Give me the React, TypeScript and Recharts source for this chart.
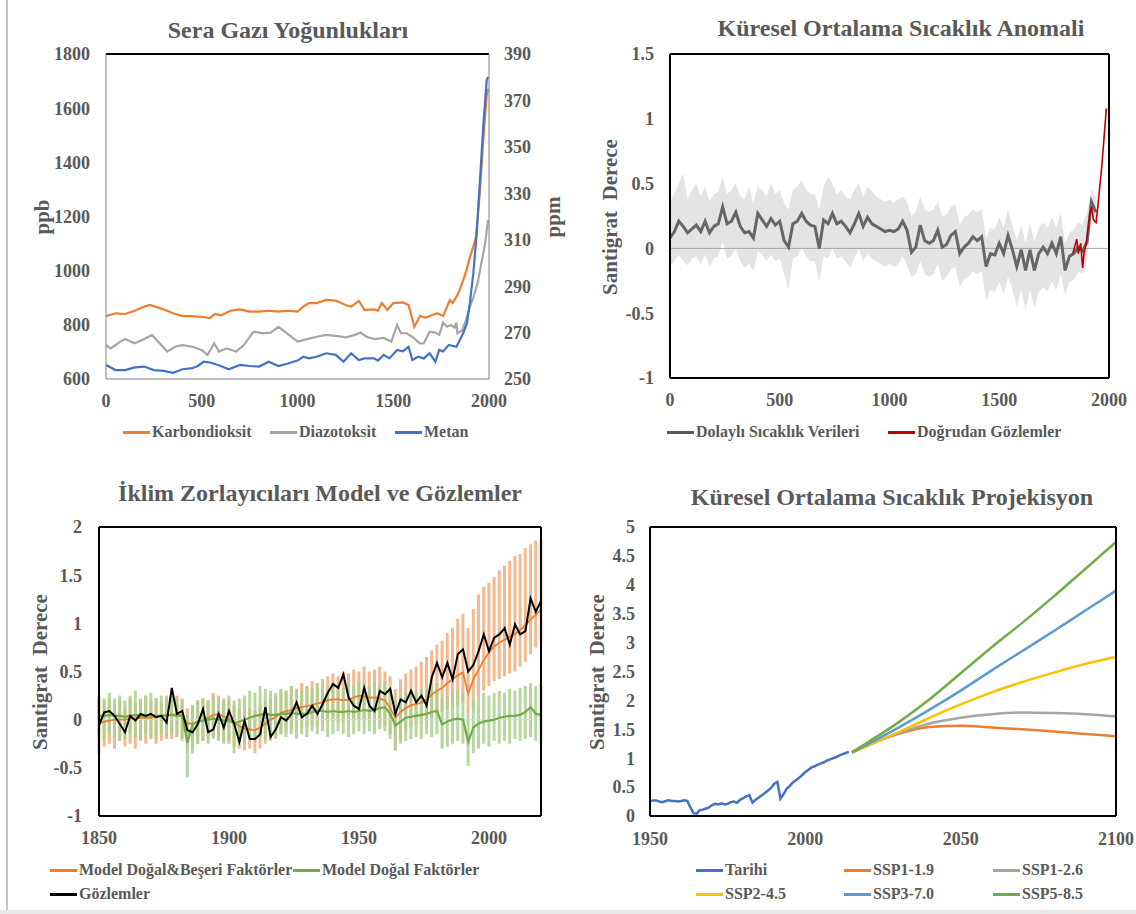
import React from "react";
import {
  LineChart,
  ComposedChart,
  Line,
  Area,
  Bar,
  XAxis,
  YAxis,
  ReferenceLine,
} from "recharts";

const FONT = '"Liberation Serif", "Times New Roman", serif';
const INK = "#595959";

// ---- Sera gazı yoğunlukları (yıl 0–2000) ----
const co2Years = [0, 50, 100, 150, 200, 230, 300, 350, 400, 450, 500, 540, 570, 600, 650, 700, 750, 800, 850, 900, 950, 1000, 1030, 1060, 1100, 1150, 1200, 1250, 1280, 1320, 1350, 1400, 1420, 1440, 1470, 1500, 1550, 1580, 1610, 1640, 1670, 1700, 1730, 1760, 1796, 1810, 1840, 1866, 1883, 1901, 1918, 1932, 1953, 1970, 1988, 1995];
const co2Ppm = [277.1, 278.3, 278.0, 279.4, 281.2, 281.9, 280.0, 278.3, 277.1, 277.1, 276.8, 276.2, 278.0, 277.4, 279.4, 280.0, 279.0, 279.0, 279.4, 279.0, 279.4, 279.0, 281.2, 282.7, 282.7, 284.1, 283.8, 281.9, 281.2, 283.7, 279.7, 280.0, 279.4, 282.7, 279.7, 282.7, 283.0, 281.9, 272.5, 277.1, 276.5, 277.5, 278.3, 277.1, 284.0, 282.7, 286.9, 292.7, 297.0, 302.7, 307.0, 311.3, 331.4, 353.0, 372.0, 375.0];

const n2oYears = [0, 25, 75, 100, 150, 200, 240, 280, 320, 360, 400, 450, 500, 530, 565, 590, 630, 680, 720, 770, 820, 860, 900, 940, 1000, 1050, 1100, 1150, 1200, 1250, 1300, 1330, 1360, 1400, 1450, 1490, 1520, 1540, 1570, 1600, 1640, 1660, 1690, 1720, 1740, 1760, 1780, 1800, 1820, 1830, 1835, 1860, 1880, 1900, 1920, 1940, 1960, 1980, 1995];
const n2oPpb = [264.6, 263.2, 266.1, 267.2, 265.4, 267.2, 269.0, 265.4, 261.8, 263.9, 264.6, 263.9, 262.5, 260.3, 265.4, 261.8, 263.2, 261.8, 264.6, 270.4, 269.7, 270.0, 272.5, 270.0, 266.1, 267.2, 268.2, 269.0, 268.6, 267.9, 269.0, 270.0, 268.2, 267.2, 267.7, 266.1, 273.3, 269.7, 269.7, 268.1, 265.3, 265.4, 270.4, 270.0, 269.0, 274.3, 272.5, 273.3, 272.2, 274.3, 269.7, 271.0, 275.4, 281.2, 285.5, 291.2, 299.8, 308.5, 318.5];

const ch4Years = [0, 50, 100, 150, 200, 250, 300, 350, 400, 450, 480, 510, 550, 600, 640, 700, 750, 800, 850, 900, 950, 1000, 1030, 1060, 1100, 1150, 1200, 1240, 1280, 1320, 1350, 1400, 1420, 1450, 1480, 1520, 1550, 1580, 1600, 1630, 1660, 1690, 1720, 1740, 1760, 1790, 1830, 1865, 1885, 1900, 1918, 1936, 1953, 1970, 1988, 1995];
const ch4Ppb = [652, 633, 633, 643, 646, 633, 630, 623, 636, 640, 648, 664, 660, 648, 636, 652, 648, 646, 664, 648, 657, 668, 682, 676, 682, 695, 689, 664, 695, 670, 676, 676, 668, 689, 676, 707, 702, 719, 670, 682, 676, 695, 664, 707, 702, 726, 719, 769, 806, 880, 990, 1138, 1335, 1532, 1704, 1715];

// ---- Küresel ortalama sıcaklık anomalisi ----
const proxyYears = Array.from({ length: 98 }, (_, i) => i * 20);
const proxyMean = [
  0.08, 0.13, 0.21, 0.17, 0.12, 0.15, 0.18, 0.13, 0.21, 0.12,
  0.17, 0.19, 0.32, 0.19, 0.21, 0.28, 0.17, 0.12, 0.13, 0.08,
  0.27, 0.22, 0.17, 0.23, 0.18, 0.21, 0.06, 0.01, 0.19, 0.21,
  0.27, 0.21, 0.18, 0.17, 0.0, 0.22, 0.19, 0.27, 0.19, 0.21,
  0.17, 0.12, 0.19, 0.27, 0.17, 0.24, 0.19, 0.17, 0.15, 0.13,
  0.14, 0.13, 0.15, 0.21, 0.14, -0.03, 0.01, 0.18, 0.06, 0.04,
  0.06, 0.14, 0.01, 0.03, 0.1, 0.13, -0.04, 0.01, 0.04, 0.09,
  0.06, 0.09, -0.14, -0.04, -0.05, 0.04, -0.04, 0.1, -0.01, -0.14,
  -0.01, -0.17, -0.01, -0.17, -0.04, 0.01, -0.04, 0.04, -0.04, 0.09,
  -0.17, -0.06, -0.04, 0.01, -0.02, 0.05, 0.36, 0.28,
];
const proxyHigh = [
  0.37, 0.42, 0.5, 0.58, 0.38, 0.45, 0.5, 0.4, 0.48, 0.36,
  0.42, 0.44, 0.55, 0.42, 0.45, 0.5, 0.4, 0.38, 0.48, 0.35,
  0.48, 0.45, 0.4, 0.5, 0.42, 0.45, 0.35, 0.3, 0.45, 0.48,
  0.52, 0.45, 0.42, 0.42, 0.3, 0.48, 0.55, 0.5, 0.42, 0.45,
  0.4, 0.38, 0.45, 0.5, 0.4, 0.48, 0.44, 0.4, 0.38, 0.36,
  0.38, 0.35, 0.38, 0.4, 0.36, 0.25, 0.28, 0.4, 0.3, 0.28,
  0.3, 0.36, 0.25, 0.26, 0.32, 0.34, 0.18, 0.24, 0.26, 0.3,
  0.28, 0.3, 0.08, 0.16, 0.15, 0.24, 0.16, 0.3, 0.18, 0.06,
  0.18, 0.04, 0.2, 0.05, 0.16, 0.2, 0.16, 0.24, 0.16, 0.28,
  0.04, 0.12, 0.15, 0.2, 0.18, 0.28, 0.45, 0.4,
];
const proxyLow = [
  -0.13, -0.1, -0.05, -0.1, -0.13, -0.08, -0.06, -0.12, -0.05, -0.14,
  -0.08, -0.06, 0.05, -0.08, -0.06, 0.0, -0.1, -0.15, -0.12, -0.18,
  -0.02, -0.05, -0.1, -0.05, -0.1, -0.08, -0.2, -0.32, -0.08, -0.06,
  0.0, -0.06, -0.1, -0.1, -0.26, -0.06, -0.08, 0.0, -0.08, -0.06,
  -0.1, -0.15, -0.08, 0.0, -0.1, -0.04, -0.08, -0.1, -0.12, -0.14,
  -0.12, -0.14, -0.12, -0.06, -0.13, -0.22, -0.2, -0.1, -0.2, -0.22,
  -0.2, -0.12, -0.25, -0.22, -0.16, -0.14, -0.3, -0.24, -0.22, -0.18,
  -0.2, -0.18, -0.4, -0.32, -0.34, -0.26, -0.35, -0.22, -0.32, -0.45,
  -0.32, -0.48, -0.32, -0.46, -0.34, -0.3, -0.33, -0.26, -0.32, -0.2,
  -0.36, -0.26, -0.24, -0.18, -0.2, -0.1, 0.25, 0.2,
];
const directYears = [1835, 1845, 1853, 1860, 1871, 1880, 1886, 1898, 1913, 1921, 1929, 1941, 1947, 1967, 1988];
const directTemp = [-0.04, 0.02, 0.07, -0.04, 0.04, -0.15, -0.04, 0.06, 0.27, 0.32, 0.22, 0.2, 0.29, 0.63, 1.08];

// ---- İklim zorlayıcıları (1850–2020, iki yıllık) ----
const forcingYears = Array.from({ length: 86 }, (_, i) => 1850 + i * 2);
const allMean = [
  -0.04, -0.02, -0.01, 0.0, 0.0, 0.0, 0.01, 0.01, 0.02, 0.02,
  0.02, 0.03, 0.04, 0.04, 0.05, 0.06, 0.04, -0.04, -0.04, -0.02,
  -0.01, 0.02, 0.05, 0.06, 0.03, 0.01, -0.03, -0.07, -0.09, -0.1,
  -0.11, -0.08, -0.04, 0.0, 0.03, 0.07, 0.09, 0.1, 0.12, 0.13,
  0.14, 0.15, 0.17, 0.18, 0.2, 0.21, 0.21, 0.2, 0.21, 0.23,
  0.25, 0.24, 0.23, 0.23, 0.22, 0.2, 0.12, 0.02, 0.08, 0.12,
  0.15, 0.16, 0.18, 0.21, 0.26, 0.3, 0.33, 0.38, 0.42, 0.46,
  0.49, 0.27, 0.42, 0.52, 0.62, 0.7, 0.76, 0.8, 0.83, 0.86,
  0.89, 0.93, 0.98, 1.04, 1.09, 1.14,
];
const allHigh = [
  0.2, 0.18, 0.22, 0.15, 0.2, 0.12, 0.22, 0.18, 0.2, 0.25,
  0.2, 0.22, 0.18, 0.25, 0.3, 0.25, 0.22, 0.12, 0.15, 0.2,
  0.22, 0.2, 0.28, 0.25, 0.22, 0.2, 0.15, 0.12, 0.1, 0.12,
  0.1, 0.15, 0.2, 0.22, 0.25, 0.3, 0.3, 0.35, 0.32, 0.38,
  0.35, 0.4, 0.38, 0.42, 0.45, 0.48, 0.45, 0.5, 0.48, 0.52,
  0.5, 0.55, 0.5, 0.52, 0.55, 0.5, 0.45, 0.32, 0.42, 0.48,
  0.52, 0.55, 0.6, 0.65, 0.72, 0.78, 0.82, 0.9, 0.95, 1.05,
  1.1, 0.95, 1.15, 1.3, 1.38, 1.42, 1.48, 1.55, 1.6, 1.65,
  1.7, 1.72, 1.78, 1.82, 1.86, 1.88,
];
const allLow = [
  -0.35, -0.28, -0.25, -0.3, -0.22, -0.28, -0.25, -0.3, -0.22, -0.25,
  -0.2, -0.25, -0.22, -0.2, -0.2, -0.18, -0.22, -0.3, -0.28, -0.25,
  -0.22, -0.2, -0.18, -0.2, -0.22, -0.25, -0.28, -0.3, -0.32, -0.3,
  -0.35, -0.3, -0.25, -0.22, -0.2, -0.15, -0.12, -0.1, -0.1, -0.08,
  -0.08, -0.06, -0.05, -0.04, -0.02, -0.02, -0.03, -0.03, -0.02, 0.0,
  0.0, 0.0, -0.02, -0.02, -0.04, -0.06, -0.15, -0.32, -0.2, -0.12,
  -0.08, -0.05, -0.04, -0.02, 0.02, 0.05, 0.08, 0.1, 0.12, 0.15,
  0.18, 0.05, 0.12, 0.22, 0.3, 0.35, 0.4, 0.42, 0.45, 0.48,
  0.5, 0.55, 0.6, 0.68, 0.75, 0.8,
];
const natMean = [
  0.04, 0.04, 0.05, 0.04, 0.04, 0.03, 0.04, 0.05, 0.04, 0.04,
  0.05, 0.04, 0.04, 0.05, 0.05, 0.04, 0.04, -0.24, -0.05, -0.02,
  -0.01, 0.0, 0.01, 0.0, -0.01, -0.01, -0.04, -0.02, 0.0, 0.02,
  0.04, 0.05, 0.06, 0.05, 0.05, 0.06, 0.06, 0.07, 0.06, 0.06,
  0.06, 0.08, 0.09, 0.09, 0.08, 0.09, 0.08, 0.08, 0.09, 0.08,
  0.09, 0.1, 0.09, 0.1, 0.12, 0.13, 0.06, -0.06, -0.02, 0.02,
  0.03, 0.04, 0.05, 0.06, 0.08, 0.09, -0.05, -0.02, 0.0, 0.01,
  0.0, -0.23, -0.08, -0.04, -0.02, -0.01, 0.0, 0.02, 0.03, 0.04,
  0.04, 0.05, 0.08, 0.13, 0.06, 0.05,
];
const natHigh = [
  0.25, 0.22, 0.28, 0.22, 0.25, 0.2, 0.25, 0.3, 0.22, 0.25,
  0.28, 0.22, 0.25, 0.22, 0.28, 0.22, 0.2, 0.05, 0.15, 0.2,
  0.22, 0.2, 0.25, 0.22, 0.2, 0.25, 0.2, 0.22, 0.25, 0.3,
  0.28, 0.35, 0.32, 0.3, 0.28, 0.32, 0.3, 0.35, 0.32, 0.3,
  0.35, 0.32, 0.38, 0.35, 0.32, 0.38, 0.35, 0.32, 0.38, 0.35,
  0.4, 0.38, 0.35, 0.4, 0.38, 0.4, 0.3, 0.2, 0.25, 0.28,
  0.3, 0.28, 0.32, 0.3, 0.35, 0.38, 0.22, 0.25, 0.28, 0.3,
  0.28, 0.05, 0.2, 0.22, 0.28, 0.25, 0.28, 0.3, 0.28, 0.32,
  0.3, 0.33, 0.35, 0.38, 0.35, 0.37,
];
const natLow = [
  -0.15, -0.2, -0.15, -0.18, -0.22, -0.2, -0.15, -0.18, -0.2, -0.15,
  -0.18, -0.2, -0.15, -0.18, -0.15, -0.18, -0.2, -0.6, -0.35, -0.25,
  -0.22, -0.25, -0.2, -0.22, -0.25, -0.22, -0.35, -0.28, -0.25, -0.2,
  -0.22, -0.18, -0.2, -0.15, -0.18, -0.15, -0.18, -0.15, -0.2, -0.15,
  -0.18, -0.12, -0.15, -0.12, -0.18, -0.15, -0.12, -0.15, -0.18, -0.15,
  -0.12, -0.15, -0.12, -0.15, -0.1, -0.12, -0.2, -0.32, -0.25, -0.22,
  -0.2, -0.18, -0.2, -0.15, -0.18, -0.15, -0.3, -0.28, -0.25, -0.22,
  -0.25, -0.48, -0.35, -0.3, -0.25, -0.28, -0.22, -0.25, -0.22, -0.25,
  -0.2, -0.22, -0.2, -0.18, -0.22, -0.25,
];
const observed = [
  -0.06, 0.075, 0.09, 0.04, -0.045, -0.13, 0.04, -0.01, 0.06, 0.04,
  0.06, 0.025, 0.04, -0.03, 0.33, 0.06, 0.09, -0.11, -0.13, -0.045,
  0.11, -0.13, -0.1, 0.06, -0.08, 0.09, -0.045, -0.23, -0.01, -0.2,
  -0.2, -0.15, 0.13, -0.18, -0.1, 0.025, -0.01, 0.06, 0.18, 0.025,
  0.06, 0.145, 0.06, 0.16, 0.28, 0.37, 0.33, 0.47, 0.23, 0.145,
  0.11, 0.33, 0.145, 0.09, 0.3, 0.265, 0.32, 0.06, 0.21, 0.18,
  0.3, 0.18, 0.25, 0.145, 0.44, 0.59, 0.44, 0.59, 0.42, 0.68,
  0.73, 0.5, 0.57, 0.71, 0.885, 0.71, 0.85, 0.885, 0.95, 0.78,
  0.99, 0.885, 0.92, 1.26, 1.12, 1.23,
];

// ---- Projeksiyon (1950–2100) ----
const histYears = Array.from({ length: 65 }, (_, i) => 1950 + i);
const histTemp = [
  0.26, 0.27, 0.27, 0.25, 0.24, 0.26, 0.27, 0.26, 0.26, 0.25,
  0.26, 0.27, 0.26, 0.15, 0.05, 0.04, 0.1, 0.11, 0.13, 0.15,
  0.19, 0.21, 0.2, 0.22, 0.2, 0.21, 0.24, 0.25, 0.23, 0.28,
  0.31, 0.34, 0.36, 0.23, 0.28, 0.32, 0.36, 0.4, 0.44, 0.49,
  0.56, 0.59, 0.3, 0.38, 0.47, 0.52, 0.58, 0.62, 0.66, 0.71,
  0.76, 0.8, 0.84, 0.86, 0.89, 0.91, 0.93, 0.96, 0.98, 1.0,
  1.02, 1.05, 1.07, 1.09, 1.11,
];
const sspYears = [2015, 2020, 2030, 2040, 2050, 2060, 2070, 2080, 2090, 2100];
const ssp119 = [1.1, 1.22, 1.42, 1.54, 1.56, 1.53, 1.5, 1.46, 1.42, 1.38];
const ssp126 = [1.1, 1.22, 1.43, 1.6, 1.7, 1.76, 1.79, 1.78, 1.76, 1.72];
const ssp245 = [1.1, 1.22, 1.45, 1.7, 1.93, 2.14, 2.32, 2.48, 2.63, 2.75];
const ssp370 = [1.1, 1.24, 1.53, 1.84, 2.17, 2.52, 2.86, 3.2, 3.55, 3.9];
const ssp585 = [1.1, 1.27, 1.62, 2.02, 2.47, 2.92, 3.35, 3.8, 4.27, 4.74];

const pairs = (xs: number[], ys: number[]) => xs.map((year, i) => ({ year, v: ys[i] }));

const co2Data = pairs(co2Years, co2Ppm);
const n2oData = pairs(n2oYears, n2oPpb);
const ch4Data = pairs(ch4Years, ch4Ppb);

const proxyRows = proxyYears.map((year, i) => ({
  year,
  proxy: proxyMean[i],
  band: [proxyLow[i], proxyHigh[i]],
}));
const directData = pairs(directYears, directTemp);

const forcingRows = forcingYears.map((year, i) => ({
  year,
  allRange: [allLow[i], allHigh[i]],
  natRange: [natLow[i], natHigh[i]],
  all: allMean[i],
  nat: natMean[i],
  obs: observed[i],
}));

const histData = pairs(histYears, histTemp);
const sspRows = sspYears.map((year, i) => ({
  year,
  s119: ssp119[i],
  s126: ssp126[i],
  s245: ssp245[i],
  s370: ssp370[i],
  s585: ssp585[i],
}));

const tickStyle = { fill: INK, fontSize: 18, fontWeight: 700, fontFamily: FONT };
const boxAxis = { stroke: "#000", strokeWidth: 2 };

function Title({ x, y, text }: { x: number; y: number; text: string }) {
  return (
    <div
      style={{
        position: "absolute",
        left: x,
        top: y - 12,
        transform: "translateX(-50%)",
        whiteSpace: "nowrap",
        fontSize: 24,
        lineHeight: "24px",
        fontWeight: 700,
        color: INK,
      }}
    >
      {text}
    </div>
  );
}

function SideLabel({ x, y, text }: { x: number; y: number; text: string }) {
  return (
    <div
      style={{
        position: "absolute",
        left: x,
        top: y,
        transform: "translate(-50%, -50%) rotate(-90deg)",
        whiteSpace: "pre",
        fontSize: 21,
        lineHeight: "21px",
        fontWeight: 700,
        color: INK,
      }}
    >
      {text}
    </div>
  );
}

function Key({ x, y, color, text }: { x: number; y: number; color: string; text: string }) {
  return (
    <div
      style={{
        position: "absolute",
        left: x,
        top: y - 9,
        height: 18,
        display: "flex",
        alignItems: "center",
        whiteSpace: "nowrap",
      }}
    >
      <span style={{ display: "inline-block", width: 27, height: 3, background: color, marginRight: 2 }} />
      <span style={{ fontSize: 16, lineHeight: "18px", fontWeight: 700, color: INK }}>{text}</span>
    </div>
  );
}

function GasPanel() {
  return (
    <div style={{ position: "absolute", left: 0, top: 0, width: 568, height: 457 }}>
      <LineChart width={568} height={457} margin={{ top: 54, right: 19, bottom: 48, left: 46 }}>
        <XAxis
          type="number"
          dataKey="year"
          domain={[0, 2000]}
          ticks={[0, 500, 1000, 1500, 2000]}
          tick={tickStyle}
          tickLine={false}
          tickMargin={9}
          height={30}
          axisLine={{ stroke: "#bfbfbf", strokeWidth: 2 }}
        />
        <YAxis
          yAxisId="ppb"
          domain={[600, 1800]}
          ticks={[600, 800, 1000, 1200, 1400, 1600, 1800]}
          tick={tickStyle}
          tickLine={false}
          tickMargin={10}
          width={60}
          axisLine={{ stroke: "#7f7f7f", strokeWidth: 1 }}
        />
        <YAxis
          yAxisId="ppm"
          orientation="right"
          domain={[250, 390]}
          ticks={[250, 270, 290, 310, 330, 350, 370, 390]}
          tick={tickStyle}
          tickLine={false}
          tickMargin={9}
          width={60}
          axisLine={{ stroke: "#7f7f7f", strokeWidth: 1 }}
        />
        <ReferenceLine yAxisId="ppb" y={1800} stroke="#000" strokeWidth={2} />
        <Line yAxisId="ppm" data={n2oData} dataKey="v" stroke="#a5a5a5" strokeWidth={2.2} dot={false} isAnimationActive={false} />
        <Line yAxisId="ppm" data={co2Data} dataKey="v" stroke="#ed7d31" strokeWidth={2.2} dot={false} isAnimationActive={false} />
        <Line yAxisId="ppb" data={ch4Data} dataKey="v" stroke="#4472c4" strokeWidth={2.2} dot={false} isAnimationActive={false} />
      </LineChart>
      <Title x={288} y={30} text="Sera Gazı Yoğunlukları" />
      <SideLabel x={42} y={217} text="ppb" />
      <SideLabel x={553} y={217} text="ppm" />
      <Key x={123} y={432} color="#ed7d31" text="Karbondioksit" />
      <Key x={270} y={432} color="#a5a5a5" text="Diazotoksit" />
      <Key x={395} y={432} color="#4472c4" text="Metan" />
    </div>
  );
}

function AnomalyPanel() {
  return (
    <div style={{ position: "absolute", left: 568, top: 0, width: 568, height: 457 }}>
      <ComposedChart width={568} height={457} data={proxyRows} margin={{ top: 54, right: 27, bottom: 49, left: 42 }}>
        <XAxis
          type="number"
          dataKey="year"
          domain={[0, 2000]}
          ticks={[0, 500, 1000, 1500, 2000]}
          tick={tickStyle}
          tickLine={false}
          tickMargin={9}
          height={30}
          axisLine={boxAxis}
        />
        <YAxis
          domain={[-1, 1.5]}
          ticks={[-1, -0.5, 0, 0.5, 1, 1.5]}
          tick={tickStyle}
          tickLine={false}
          tickMargin={10}
          width={60}
          axisLine={boxAxis}
        />
        <ReferenceLine y={0} stroke="#a6a6a6" strokeWidth={1} />
        <Area dataKey="band" stroke="none" fill="#e4e4e4" fillOpacity={1} isAnimationActive={false} />
        <Line dataKey="proxy" stroke="#666666" strokeWidth={3} dot={false} isAnimationActive={false} />
        <Line data={directData} dataKey="v" stroke="#c00000" strokeWidth={1.6} dot={false} isAnimationActive={false} />
        <ReferenceLine y={1.5} stroke="#000" strokeWidth={2} />
        <ReferenceLine x={2000} stroke="#000" strokeWidth={2} />
      </ComposedChart>
      <Title x={333} y={28} text="Küresel Ortalama Sıcaklık Anomali" />
      <SideLabel x={42} y={217} text="Santigrat  Derece" />
      <Key x={99} y={432} color="#595959" text="Dolaylı Sıcaklık Verileri" />
      <Key x={320} y={432} color="#c00000" text="Doğrudan Gözlemler" />
    </div>
  );
}

function ForcingPanel() {
  return (
    <div style={{ position: "absolute", left: 0, top: 457, width: 568, height: 457 }}>
      <ComposedChart width={568} height={457} data={forcingRows} margin={{ top: 70, right: 27, bottom: 68, left: 39 }}>
        <XAxis
          xAxisId="yr"
          type="number"
          dataKey="year"
          domain={[1850, 2020]}
          ticks={[1850, 1900, 1950, 2000]}
          tick={tickStyle}
          tickLine={false}
          tickMargin={9}
          height={30}
          axisLine={boxAxis}
        />
        {/* second, invisible year axis so the two range bars overlap instead of sitting side by side */}
        <XAxis xAxisId="nat" type="number" dataKey="year" domain={[1850, 2020]} hide height={0} />
        <YAxis
          domain={[-1, 2]}
          ticks={[-1, -0.5, 0, 0.5, 1, 1.5, 2]}
          tick={tickStyle}
          tickLine={false}
          tickMargin={11}
          width={60}
          axisLine={boxAxis}
        />
        <ReferenceLine xAxisId="yr" y={0} stroke="#d9d9d9" strokeWidth={1} />
        <Bar xAxisId="yr" dataKey="allRange" fill="#f4b183" fillOpacity={0.9} barSize={3} isAnimationActive={false} />
        <Bar xAxisId="nat" dataKey="natRange" fill="#a9d18e" fillOpacity={0.85} barSize={3} isAnimationActive={false} />
        <Line xAxisId="yr" dataKey="all" stroke="#ed7d31" strokeWidth={1.8} dot={false} isAnimationActive={false} />
        <Line xAxisId="yr" dataKey="nat" stroke="#70ad47" strokeWidth={2.2} dot={false} isAnimationActive={false} />
        <Line xAxisId="yr" dataKey="obs" stroke="#000000" strokeWidth={2} dot={false} isAnimationActive={false} />
        <ReferenceLine xAxisId="yr" y={2} stroke="#000" strokeWidth={2} />
        <ReferenceLine xAxisId="yr" x={2020} stroke="#000" strokeWidth={2} />
      </ComposedChart>
      <Title x={320} y={36} text="İklim Zorlayıcıları Model ve Gözlemler" />
      <SideLabel x={40} y={215} text="Santigrat  Derece" />
      <Key x={50} y={413} color="#ed7d31" text="Model Doğal&Beşeri Faktörler" />
      <Key x={293} y={413} color="#70ad47" text="Model Doğal Faktörler" />
      <Key x={50} y={437} color="#000000" text="Gözlemler" />
    </div>
  );
}

function ProjectionPanel() {
  return (
    <div style={{ position: "absolute", left: 568, top: 457, width: 568, height: 457 }}>
      <LineChart width={568} height={457} data={sspRows} margin={{ top: 70, right: 20, bottom: 68, left: 22 }}>
        <XAxis
          type="number"
          dataKey="year"
          domain={[1950, 2100]}
          ticks={[1950, 2000, 2050, 2100]}
          tick={tickStyle}
          tickLine={false}
          tickMargin={10}
          height={30}
          axisLine={boxAxis}
        />
        <YAxis
          domain={[0, 5]}
          ticks={[0, 0.5, 1, 1.5, 2, 2.5, 3, 3.5, 4, 4.5, 5]}
          tick={tickStyle}
          tickLine={false}
          tickMargin={9}
          width={60}
          axisLine={boxAxis}
        />
        <Line type="monotone" dataKey="s119" stroke="#ed7d31" strokeWidth={2.5} dot={false} isAnimationActive={false} />
        <Line type="monotone" dataKey="s126" stroke="#a5a5a5" strokeWidth={2.5} dot={false} isAnimationActive={false} />
        <Line type="monotone" dataKey="s245" stroke="#ffc000" strokeWidth={2.5} dot={false} isAnimationActive={false} />
        <Line type="monotone" dataKey="s370" stroke="#5b9bd5" strokeWidth={2.5} dot={false} isAnimationActive={false} />
        <Line type="monotone" dataKey="s585" stroke="#70ad47" strokeWidth={2.5} dot={false} isAnimationActive={false} />
        <Line data={histData} dataKey="v" stroke="#4472c4" strokeWidth={2.5} dot={false} isAnimationActive={false} />
        <ReferenceLine y={5} stroke="#000" strokeWidth={2} />
        <ReferenceLine x={2100} stroke="#000" strokeWidth={2} />
      </LineChart>
      <Title x={324} y={40} text="Küresel Ortalama Sıcaklık Projekisyon" />
      <SideLabel x={29} y={215} text="Santigrat  Derece" />
      <Key x={128} y={413} color="#4472c4" text="Tarihi" />
      <Key x={276} y={413} color="#ed7d31" text="SSP1-1.9" />
      <Key x={425} y={413} color="#a5a5a5" text="SSP1-2.6" />
      <Key x={128} y={437} color="#ffc000" text="SSP2-4.5" />
      <Key x={276} y={437} color="#5b9bd5" text="SSP3-7.0" />
      <Key x={425} y={437} color="#70ad47" text="SSP5-8.5" />
    </div>
  );
}

export default function App() {
  return (
    <div
      style={{
        position: "absolute",
        left: 0,
        top: 0,
        width: 1136,
        height: 914,
        background: "#fff",
        fontFamily: FONT,
        overflow: "hidden",
      }}
    >
      <div style={{ position: "absolute", left: 6, top: 0, width: 2, height: 914, background: "#c4c4c4" }} />
      <div style={{ position: "absolute", left: 0, top: 910, width: 1136, height: 4, background: "#e8e8e8" }} />
      <GasPanel />
      <AnomalyPanel />
      <ForcingPanel />
      <ProjectionPanel />
    </div>
  );
}
